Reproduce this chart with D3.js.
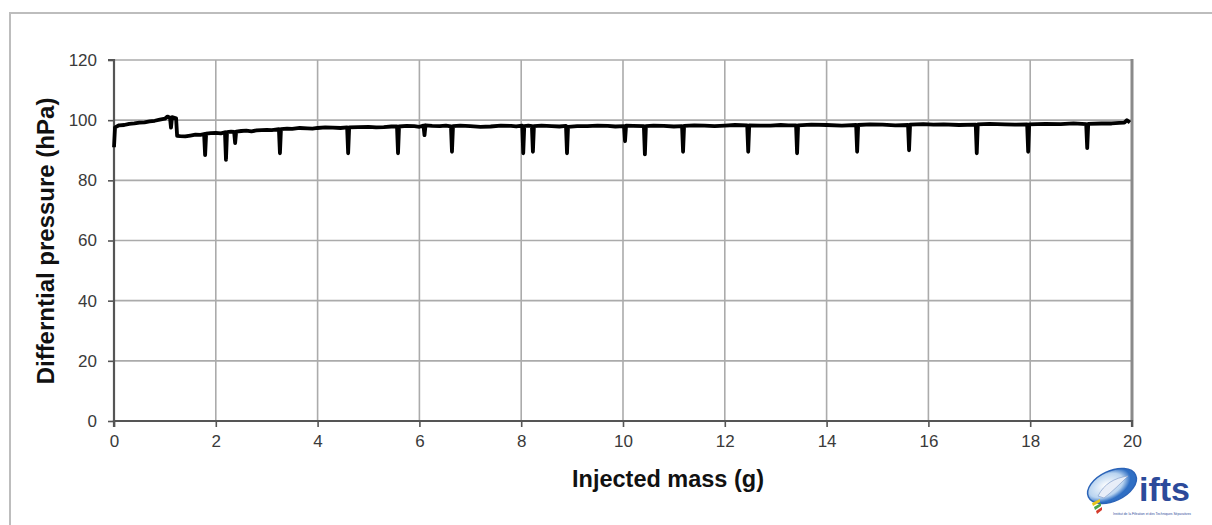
<!DOCTYPE html>
<html><head><meta charset="utf-8">
<script src="https://cdn.jsdelivr.net/npm/d3@7/dist/d3.min.js"></script>
<style>body{margin:0;background:#fff;}svg{display:block;}</style>
</head><body>
<svg id="c" width="1212" height="525"></svg>
<script>
// ---- data ----
const massG = [0,0.02,0.1,0.2,0.3,0.4,0.5,0.6,0.7,0.8,0.9,1.0,1.05,1.1,1.12,1.14,1.22,1.24,1.3,1.4,1.5,1.6,1.7,1.77,1.79,1.81,1.9,2.0,2.1,2.18,2.2,2.22,2.3,2.36,2.38,2.4,2.5,2.6,2.7,2.8,2.9,3.0,3.1,3.24,3.26,3.28,3.4,3.5,3.65,3.8,3.9,4.0,4.15,4.3,4.45,4.58,4.6,4.62,4.8,5.0,5.15,5.3,5.45,5.56,5.58,5.6,5.75,5.9,6.0,6.08,6.1,6.12,6.25,6.4,6.52,6.62,6.64,6.66,6.8,7.0,7.2,7.4,7.6,7.8,7.9,8.02,8.04,8.06,8.14,8.21,8.23,8.25,8.4,8.6,8.75,8.88,8.9,8.92,9.1,9.3,9.5,9.7,9.85,10.02,10.04,10.06,10.2,10.41,10.43,10.45,10.6,10.8,11.0,11.16,11.18,11.2,11.4,11.6,11.8,12.0,12.2,12.44,12.46,12.48,12.7,12.9,13.1,13.25,13.4,13.42,13.44,13.7,14.0,14.3,14.58,14.6,14.62,14.85,15.1,15.35,15.6,15.62,15.64,15.9,16.1,16.3,16.6,16.93,16.95,16.97,17.2,17.5,17.7,17.94,17.96,17.98,18.3,18.6,18.85,19.1,19.12,19.14,19.4,19.6,19.75,19.85,19.9,19.96];
const pressureHPa = [91,97.6,98.3,98.4,98.8,98.9,99.2,99.3,99.6,99.8,100.2,100.5,101.2,100.8,97.5,101,100.6,94.8,94.7,94.6,94.9,95.2,95.1,95.4,88.4,95.5,95.7,95.8,95.6,96,86.8,96,96.2,96.1,92.4,96.2,96.4,96.5,96.3,96.6,96.7,96.8,96.7,97,89,97,97.2,97.1,97.4,97.3,97.2,97.4,97.6,97.5,97.4,97.6,89,97.6,97.7,97.8,97.6,97.7,97.9,97.9,89,97.9,98.1,98,97.8,98.2,95,98.3,98.1,98,98.2,97.9,89.5,98,98.2,98,97.8,97.9,98.2,98.1,97.9,98.2,89,98,98.2,98,89.5,98,98.2,98,97.9,98.1,89,97.8,98,98,98.2,98.1,97.9,98,93,98.2,98.1,98,88.6,98,98.2,98.1,97.9,98,89.5,98.1,98.3,98.2,98,98.2,98.4,98.3,89.5,98.3,98.2,98.2,98.4,98.3,98.3,89,98.3,98.5,98.4,98.2,98.4,89.5,98.4,98.6,98.5,98.3,98.4,90,98.5,98.7,98.5,98.6,98.4,98.5,89,98.6,98.8,98.6,98.5,98.6,89.5,98.6,98.8,98.7,98.9,98.7,90.7,98.8,98.9,98.9,99.1,99.2,100,99.2];
const xTicks = [0,2,4,6,8,10,12,14,16,18,20];
const yTicks = [0,20,40,60,80,100,120];
const xTitle = "Injected mass (g)";
const yTitle = "Differntial pressure (hPa)";

// ---- layout ----
const svg = d3.select("#c");
const L = 114, R = 1132, T = 60, B = 421;
const x = d3.scaleLinear().domain([0,20]).range([L,R]);
const y = d3.scaleLinear().domain([0,120]).range([B,T]);
const font = "'Liberation Sans', Arial, sans-serif";

// outer frame
svg.append("path").attr("d","M10,530 L10,13 L1215,13").attr("fill","none").attr("stroke","#bdbdbd").attr("stroke-width",2);

// grid
svg.append("g").selectAll("line").data(xTicks.filter(d=>d>0 && d<20)).join("line")
  .attr("x1",d=>x(d)).attr("x2",d=>x(d)).attr("y1",T).attr("y2",B)
  .attr("stroke","#ababab").attr("stroke-width",1.6);
svg.append("g").selectAll("line").data(yTicks.filter(d=>d>0)).join("line")
  .attr("x1",L).attr("x2",R).attr("y1",d=>y(d)).attr("y2",d=>y(d))
  .attr("stroke","#ababab").attr("stroke-width",1.6);
// right border
svg.append("line").attr("x1",R).attr("x2",R).attr("y1",T-1).attr("y2",B).attr("stroke","#8a8a8a").attr("stroke-width",3);

// axes
const yAxis = d3.axisLeft(y).tickValues(yTicks).tickSize(6).tickPadding(11);
const xAxis = d3.axisBottom(x).tickValues(xTicks).tickSize(6).tickPadding(8);
const gy = svg.append("g").attr("transform",`translate(${L},0)`).call(yAxis);
const gx = svg.append("g").attr("transform",`translate(0,${B})`).call(xAxis);
[gy,gx].forEach(g=>{
  g.select(".domain").attr("stroke","#555").attr("stroke-width",2.2);
  g.selectAll(".tick line").attr("stroke","#555").attr("stroke-width",1.6);
  g.selectAll(".tick text").attr("fill","#3a3a3a").style("font-family",font).style("font-size","17px");
});
gy.select(".domain").attr("d",`M-6,${T}H0V${B}`);
gx.select(".domain").attr("d",`M${L},6V0H${R}V6`);

// line
const line = d3.line().x((d,i)=>x(massG[i])).y((d,i)=>y(pressureHPa[i]));
svg.append("path").datum(pressureHPa).attr("d",line).attr("fill","none")
  .attr("stroke","#000").attr("stroke-width",3.8).attr("stroke-linejoin","round");

// titles
svg.append("text").attr("x",668).attr("y",487).attr("text-anchor","middle")
  .style("font-family",font).style("font-weight","bold").style("font-size","23.5px").attr("fill","#111").text(xTitle);
svg.append("text").attr("transform","translate(54,241) rotate(-90)").attr("text-anchor","middle")
  .style("font-family",font).style("font-weight","bold").style("font-size","24px").attr("fill","#111").text(yTitle);

// logo (approximation)
const lg = svg.append("g");
const grad = svg.append("defs").append("radialGradient").attr("id","lgGrad").attr("cx","40%").attr("cy","40%");
grad.append("stop").attr("offset","0%").attr("stop-color","#ffffff");
grad.append("stop").attr("offset","70%").attr("stop-color","#b9d4f0");
grad.append("stop").attr("offset","100%").attr("stop-color","#2f6fc4");
lg.append("ellipse").attr("cx",1112).attr("cy",486).attr("rx",26).attr("ry",15).attr("transform","rotate(-25,1112,486)")
  .attr("fill","url(#lgGrad)").attr("stroke","#2a63b8").attr("stroke-width",1.5);
lg.append("path").attr("d","M1098,496 C1104,484 1114,478 1128,476 C1120,484 1112,492 1104,498 Z").attr("fill","#e8eef8").attr("stroke","#8fa8d0").attr("stroke-width",0.8);
lg.append("path").attr("d","M1092,503 L1100,499 L1100,502 L1093,506 Z").attr("fill","#e8c41a");
lg.append("path").attr("d","M1094,507 L1101,503 L1101,506 L1095,510 Z").attr("fill","#4aa34a");
lg.append("path").attr("d","M1096,511 L1102,507 L1102,510 L1097,514 Z").attr("fill","#d43a2a");
lg.append("text").attr("x",1139).attr("y",501).style("font-family",font).style("font-weight","bold").style("font-size","34px").attr("fill","#2c4a9a").text("ifts");
lg.append("text").attr("x",1113).attr("y",515).attr("textLength",78).attr("lengthAdjust","spacingAndGlyphs").style("font-family",font).style("font-size","3.5px").attr("fill","#2c4a9a").text("Institut de la Filtration et des Techniques Séparatives");
</script>
</body></html>
